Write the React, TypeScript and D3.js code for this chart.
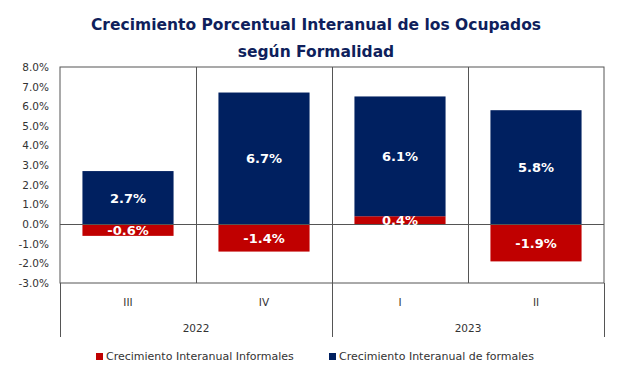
import * as d3 from "d3";
import { useEffect, useRef } from "react";

// datos del gráfico
const quarters = ["III", "IV", "I", "II"];
const years = ["2022", "2022", "2023", "2023"];
const informales = [-0.6, -1.4, 0.4, -1.9];
const formales = [2.7, 6.7, 6.1, 5.8];
const yTicks = [-3, -2, -1, 0, 1, 2, 3, 4, 5, 6, 7, 8];
const seriesNames = ["Crecimiento Interanual Informales", "Crecimiento Interanual de formales"];
const colors = ["#C00000", "#002060"];

const W = 620;
const H = 366;
const FONT = "'DejaVu Sans', sans-serif";

// formato con guion normal en vez del signo menos
const pct = (v: number) => d3.format(".1f")(v).replace("\u2212", "-") + "%";

const App = () => {
  const ref = useRef<SVGSVGElement | null>(null);

  useEffect(() => {
    const svg = d3.select(ref.current);
    svg.selectAll("*").remove();

    const margin = { top: 67, left: 60, right: 16, bottom: 83 };
    const plotW = W - margin.left - margin.right;
    const plotH = H - margin.top - margin.bottom;

    const x = d3.scaleBand().domain(quarters.map((q, i) => i + "")).range([0, plotW]).paddingInner(0).paddingOuter(0);
    const y = d3.scaleLinear().domain([-3, 8]).range([plotH, 0]);

    const rows = quarters.map((q, i) => ({ key: i + "", inf: informales[i], form: formales[i] }));
    const stacked = d3.stack<any>().keys(["inf", "form"]).offset(d3.stackOffsetDiverging)(rows);

    // título
    const title = svg.append("g").attr("font-family", FONT).attr("font-weight", "bold").attr("fill", "#0F1F5C").attr("text-anchor", "middle");
    title.append("text").attr("x", 316).attr("y", 30).attr("font-size", 15.5).text("Crecimiento Porcentual Interanual de los Ocupados");
    title.append("text").attr("x", 316).attr("y", 57).attr("font-size", 15.5).text("según Formalidad");

    const g = svg.append("g").attr("transform", `translate(${margin.left},${margin.top})`);

    // eje y
    const yAxis = d3.axisLeft(y).tickValues(yTicks).tickSize(0).tickPadding(11).tickFormat(d => pct(d as number));
    g.append("g").call(yAxis).call(s => s.select(".domain").remove())
      .selectAll("text").attr("font-family", FONT).attr("font-size", 10.5).attr("fill", "#333");

    // barras
    stacked.forEach((s, si) => {
      g.selectAll(".bar" + si).data(s).enter().append("rect")
        .attr("x", d => x(d.data.key)! + x.bandwidth() * 0.165)
        .attr("width", x.bandwidth() * 0.67)
        .attr("y", d => y(Math.max(d[0], d[1])))
        .attr("height", d => Math.abs(y(d[0]) - y(d[1])))
        .attr("fill", colors[si]);
    });

    // líneas del área
    const lineColor = "#555";
    g.append("rect").attr("x", 0).attr("y", 0).attr("width", plotW).attr("height", plotH)
      .attr("fill", "none").attr("stroke", lineColor).attr("stroke-width", 1);
    quarters.forEach((q, i) => {
      if (i === 0) return;
      const xx = Math.round(x(i + "")!) + 0.5;
      g.append("line").attr("x1", xx).attr("x2", xx).attr("y1", 0).attr("y2", plotH).attr("stroke", lineColor);
    });
    g.append("line").attr("x1", 0).attr("x2", plotW).attr("y1", Math.round(y(0)) + 0.5).attr("y2", Math.round(y(0)) + 0.5).attr("stroke", lineColor);

    // etiquetas de datos
    stacked.forEach((s, si) => {
      g.selectAll(".lbl" + si).data(s).enter().append("text")
        .attr("x", d => x(d.data.key)! + x.bandwidth() / 2)
        .attr("y", d => y((d[0] + d[1]) / 2) + 5)
        .attr("text-anchor", "middle")
        .attr("font-family", FONT).attr("font-weight", "bold").attr("font-size", 13).attr("fill", "#fff")
        .text(d => pct(d.data[si === 0 ? "inf" : "form"]));
    });

    // eje x multinivel
    const xg = g.append("g").attr("transform", `translate(0,${plotH})`)
      .attr("font-family", FONT).attr("font-size", 10.5).attr("fill", "#333").attr("text-anchor", "middle");
    quarters.forEach((q, i) => {
      xg.append("text").attr("x", x(i + "")! + x.bandwidth() / 2).attr("y", 23).text(q);
    });
    const yearGroups = d3.groups(quarters.map((q, i) => i), i => years[i]);
    yearGroups.forEach(([yr, idx]) => {
      const x0 = x(idx[0] + "")!;
      const x1 = x(idx[idx.length - 1] + "")! + x.bandwidth();
      xg.append("text").attr("x", (x0 + x1) / 2).attr("y", 49).text(yr);
    });
    const bounds = [0, x("2")!, plotW];
    bounds.forEach(b => {
      const xx = Math.round(b) + 0.5;
      xg.append("line").attr("x1", xx).attr("x2", xx).attr("y1", 0).attr("y2", 54).attr("stroke", lineColor);
    });

    // leyenda
    const legendX = [96, 329];
    const lg = svg.append("g").attr("font-family", FONT).attr("font-size", 11).attr("fill", "#333");
    seriesNames.forEach((n, i) => {
      lg.append("rect").attr("x", legendX[i]).attr("y", 353).attr("width", 7).attr("height", 7).attr("fill", colors[i]);
      lg.append("text").attr("x", legendX[i] + 10).attr("y", 360).text(n);
    });
  }, []);

  return (
    <div style={{ position: "absolute", left: 0, top: 0 }}>
      <svg ref={ref} width={W} height={H} style={{ display: "block" }} />
    </div>
  );
};

export default App;
